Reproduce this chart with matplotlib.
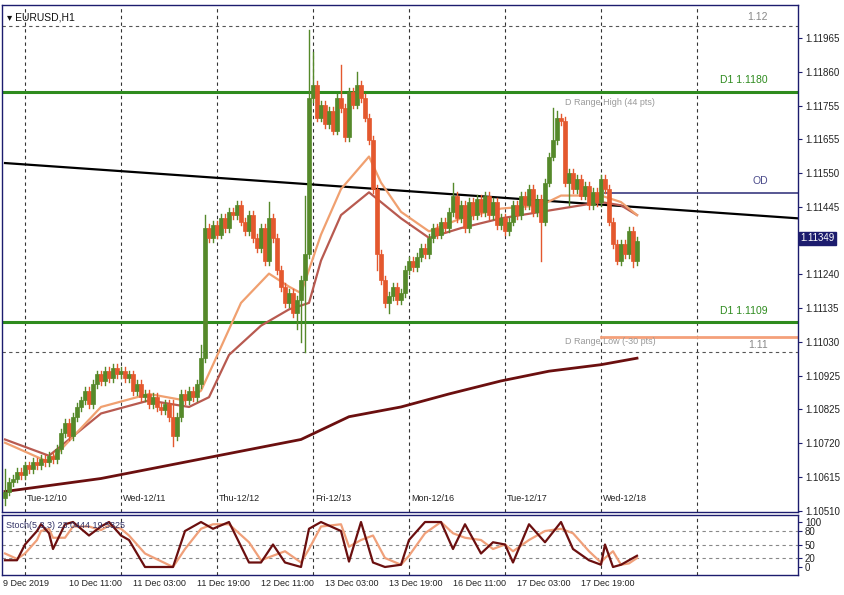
import matplotlib
matplotlib.use("Agg")
import matplotlib.pyplot as plt
from matplotlib.patches import Rectangle
import numpy as np

plt.rcParams['font.family'] = ['Liberation Sans', 'DejaVu Sans']

closes = [
1.1057,1.1060,1.1061,1.1063,1.1062,1.1065,1.1064,1.1066,1.1065,1.1067,
1.1066,1.1068,1.1067,1.1070,1.1075,1.1078,1.1074,1.1080,1.1083,1.1085,
1.1088,1.1084,1.1090,1.1093,1.1091,1.1094,1.1092,1.1095,1.1093,1.1094,
1.1092,1.1093,1.1088,1.1090,1.1086,1.1087,1.1084,1.1086,1.1083,1.1082,
1.1084,1.1080,1.1074,1.1080,1.1087,1.1085,1.1088,1.1086,1.1090,1.1098,
1.1138,1.1135,1.1139,1.1136,1.1141,1.1138,1.1143,1.1142,1.1145,1.1140,
1.1137,1.1142,1.1135,1.1132,1.1138,1.1128,1.1141,1.1135,1.1125,1.1120,
1.1115,1.1118,1.1112,1.1116,1.1122,1.1130,1.1178,1.1182,1.1172,1.1176,
1.1170,1.1174,1.1168,1.1178,1.1175,1.1166,1.1180,1.1176,1.1182,1.1178,
1.1172,1.1165,1.1150,1.1130,1.1122,1.1115,1.1117,1.1120,1.1116,1.1118,
1.1125,1.1128,1.1126,1.1129,1.1132,1.1130,1.1135,1.1138,1.1136,1.1140,
1.1138,1.1143,1.1148,1.1141,1.1145,1.1138,1.1146,1.1142,1.1147,1.1143,
1.1148,1.1142,1.1146,1.1139,1.1141,1.1137,1.1140,1.1145,1.1142,1.1148,
1.1145,1.1150,1.1143,1.1147,1.1140,1.1152,1.1160,1.1165,1.1172,1.1171,
1.1152,1.1155,1.1150,1.1153,1.1148,1.1151,1.1145,1.1149,1.1146,1.1153,
1.1150,1.1140,1.1133,1.1128,1.1133,1.1130,1.1137,1.1128,1.1134]
open0 = 1.1055
spike_high = {0: 1.1064, 42: 1.1085, 49: 1.1102, 50: 1.1142, 66: 1.1146, 75: 1.1148,
              76: 1.1199, 77: 1.1192, 84: 1.1188, 88: 1.1186, 112: 1.1152, 137: 1.1175, 138: 1.1174}
spike_low = {0: 1.1053, 42: 1.1071, 73: 1.1107, 74: 1.1103, 75: 1.1100, 93: 1.1125,
             96: 1.1112, 134: 1.1128, 141: 1.1145, 153: 1.1127, 157: 1.1126}

ma_fast_idx = [0, 11, 24, 36, 45, 49, 52, 59, 66, 71, 74, 79, 84, 91, 94, 99, 106, 114, 124, 134, 139, 149, 154, 158]
ma_fast = [1.1072, 1.1066, 1.1083, 1.1087, 1.1085, 1.1088, 1.1096, 1.1115, 1.1124, 1.1120, 1.1118, 1.1136,
           1.1150, 1.1160, 1.1152, 1.1143, 1.1137, 1.1141, 1.1144, 1.1145, 1.1148, 1.1148, 1.1146, 1.1142]
ma_mid_idx = [0, 11, 24, 36, 46, 51, 56, 64, 71, 76, 79, 84, 91, 99, 106, 114, 124, 134, 144, 149, 154, 158]
ma_mid = [1.1073, 1.1068, 1.1081, 1.1085, 1.1083, 1.1086, 1.1099, 1.1108, 1.1113, 1.1115, 1.1128, 1.1142,
          1.1149, 1.1141, 1.1135, 1.1138, 1.1141, 1.1143, 1.1145, 1.1146, 1.1145, 1.1142]
ma_slow_idx = [0, 24, 49, 74, 86, 99, 111, 124, 136, 149, 158]
ma_slow = [1.1057, 1.1061, 1.1067, 1.1073, 1.1080, 1.1083, 1.1087, 1.1091, 1.1094, 1.1096, 1.1098]

trend_x = [0, 198.25]
trend_y = [1.1158, 1.1141]

stoch_idx = [0, 3, 5, 8, 9, 11, 12, 15, 17, 21, 24, 26, 29, 31, 35, 42, 45, 49, 52, 56, 61, 64,
             67, 70, 74, 76, 79, 84, 86, 89, 92, 95, 99, 101, 105, 109, 112, 115, 119, 122, 125,
             127, 131, 135, 139, 142, 146, 149, 150, 152, 154, 156, 158]
stoch_k = [15, 15, 50, 80, 95, 75, 40, 95, 100, 70, 90, 100, 70, 60, 0, 0, 80, 100, 85, 100, 10, 10,
           50, 10, 0, 85, 100, 80, 12, 100, 10, 0, 5, 60, 100, 100, 40, 95, 30, 55, 50,
           10, 95, 55, 100, 40, 15, 5, 50, 0, 5, 15, 25]
stoch_d = [30, 18, 30, 60, 80, 85, 65, 65, 90, 90, 82, 92, 85, 70, 30, 0, 40, 85, 95, 95, 55, 15,
           25, 35, 10, 40, 90, 95, 45, 60, 70, 20, 5, 25, 75, 100, 75, 65, 60, 40, 50,
           35, 60, 80, 85, 75, 35, 10, 20, 35, 5, 8, 20]

price_ticks = [1.11965, 1.11860, 1.11755, 1.11655, 1.11550, 1.11445, 1.11240, 1.11135, 1.11030,
               1.10925, 1.10825, 1.10720, 1.10615, 1.10510]
day_idx = [5, 29, 53, 77, 101, 125, 149]
day_labels = ["Tue-12/10", "Wed-12/11", "Thu-12/12", "Fri-12/13", "Mon-12/16", "Tue-12/17", "Wed-12/18"]
future_idx = [173]
bottom_idx = [-0.5, 16, 32, 48, 64, 80, 96, 112, 128, 144]
bottom_labels = ["9 Dec 2019", "10 Dec 11:00", "11 Dec 03:00", "11 Dec 19:00", "12 Dec 11:00",
                 "13 Dec 03:00", "13 Dec 19:00", "16 Dec 11:00", "17 Dec 03:00", "17 Dec 19:00"]

BULL = "#55892a"
BEAR = "#e4582e"
NAVY = "#1c1c6e"
W, H = 845, 595
fig = plt.figure(figsize=(W/100, H/100), dpi=100)
fig.patch.set_facecolor("white")
ax = fig.add_axes([2/W, (H-512)/H, 796/W, 507/H])
ax2 = fig.add_axes([2/W, (H-575)/H, 796/W, 60/H])
xl = (-0.75, 198.25)
for a in (ax, ax2):
    a.set_xlim(*xl)
    for s in a.spines.values():
        s.set_color(NAVY); s.set_linewidth(1)
    a.yaxis.tick_right()
    a.tick_params(axis="y", direction="out", length=3, color=NAVY, labelsize=7, labelcolor="#222222", pad=2)
    a.set_xticks([])
ax.set_ylim(1.10507, 1.12066)
ax2.set_ylim(-17.8, 115.6)

for d in day_idx + future_idx:
    ax.axvline(d, color="#333333", lw=0.8, ls=(0, (3, 3)))
    ax2.axvline(d, color="#333333", lw=0.8, ls=(0, (3, 3)))
ax.axhline(1.12, color="#555555", lw=0.8, ls=(0, (3, 3)))
ax.axhline(1.11, color="#555555", lw=0.8, ls=(0, (3, 3)))
for lv in (80, 50, 20):
    ax2.axhline(lv, color="#888888", lw=0.8, ls=(0, (3, 3)))

ax.axhline(1.1180, color="#2e8b1e", lw=2.2)
ax.axhline(1.1109, color="#2e8b1e", lw=2.2)
ax.plot([150, xl[1]], [1.11487, 1.11487], color="#4a4a8a", lw=1.3)
ax.plot([149, xl[1]], [1.11044, 1.11044], color="#f4a07a", lw=2)
ax.plot(trend_x, trend_y, color="black", lw=1.6)

ax.plot(ma_slow_idx, ma_slow, color="#6b0f0f", lw=2)
ax.plot(ma_mid_idx, ma_mid, color="#b85a50", lw=1.6)
ax.plot(ma_fast_idx, ma_fast, color="#f0a070", lw=1.6)

prev = open0
for i, c in enumerate(closes):
    o = prev
    hi = spike_high.get(i, max(o, c) + 0.00012)
    lo = spike_low.get(i, min(o, c) - 0.00012)
    col = BULL if c >= o else BEAR
    ax.plot([i, i], [lo, hi], color=col, lw=1, zorder=3)
    ax.add_patch(Rectangle((i - 0.38, min(o, c)), 0.76, max(abs(c - o), 0.00003),
                           facecolor=col, edgecolor=col, lw=0.5, zorder=4))
    prev = c

yt = ax.get_yaxis_transform()
ax.set_yticks(price_ticks)
ax.set_yticklabels([f"{t:.5f}" for t in price_ticks])
ax.text(0.006, 0.985, "▾ EURUSD,H1", transform=ax.transAxes, fontsize=7.5, color="#111111", va="top")
ax.text(0.962, 1.1203, "1.12", fontsize=7.5, color="#888888", ha="right", va="center", transform=yt)
ax.text(0.962, 1.1102, "1.11", fontsize=7.5, color="#888888", ha="right", va="center", transform=yt)
ax.text(0.962, 1.1182, "D1 1.1180", fontsize=7.5, color="#2e8b1e", ha="right", va="bottom", transform=yt)
ax.text(0.962, 1.1111, "D1 1.1109", fontsize=7.5, color="#2e8b1e", ha="right", va="bottom", transform=yt)
ax.text(0.962, 1.1151, "OD", fontsize=7.5, color="#4a4a8a", ha="right", va="bottom", transform=yt)
ax.text(140, 1.1178, "D Range High (44 pts)", fontsize=6.5, color="#999999", va="top")
ax.text(140, 1.1103, "D Range Low (-30 pts)", fontsize=6.5, color="#999999", va="center")
for d, lab in zip(day_idx, day_labels):
    ax.text(d + 0.5, 1.1055, lab, fontsize=6.5, color="#222222", va="center", ha="left")
ax.text(1.003, 1.11349, "1.11349", transform=yt, fontsize=7, color="white",
        va="center", ha="left", bbox=dict(boxstyle="square,pad=0.15", fc=NAVY, ec=NAVY))

ax2.plot(stoch_idx, stoch_d, color="#f0a07a", lw=1.6)
ax2.plot(stoch_idx, stoch_k, color="#6b0f0f", lw=1.6)
ax2.set_yticks([100, 80, 50, 20, 0])
ax2.set_yticklabels(["100", "80", "50", "20", "0"])
ax2.tick_params(axis="y", labelsize=7)
ax2.text(0.005, 0.9, "Stoch(5,3,3) 23.0444 19.5325", transform=ax2.transAxes, fontsize=6.5, color="#333366", va="top")

for bi, lab in zip(bottom_idx, bottom_labels):
    fig.text((2 + (bi - xl[0]) * 796 / (xl[1] - xl[0])) / W, (H - 583) / H, lab,
             fontsize=6.5, color="#222222", ha="left", va="center")

fig.savefig("out.png", dpi=100)
